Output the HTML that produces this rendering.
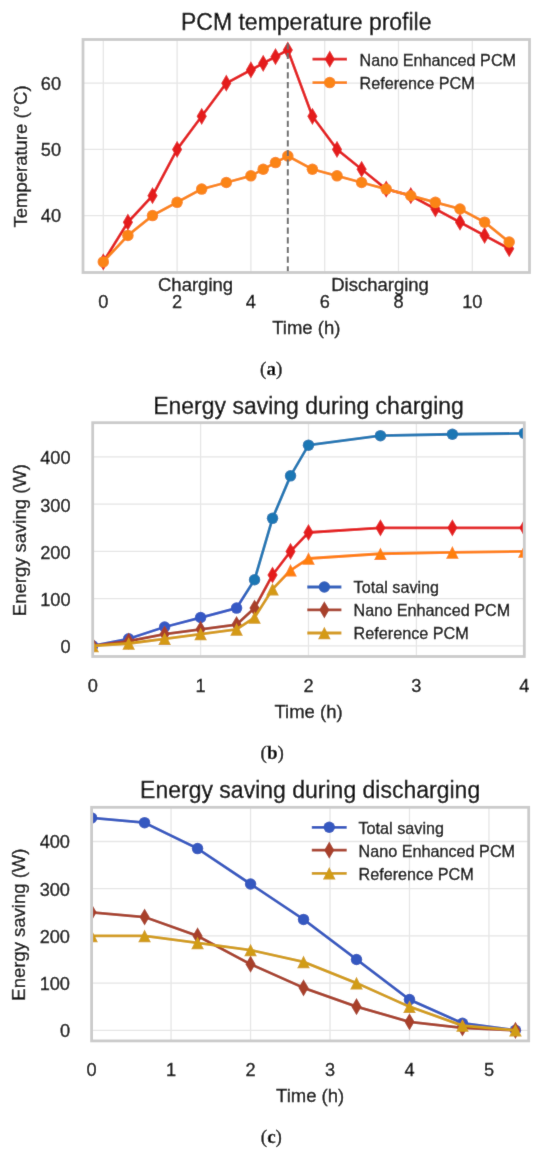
<!DOCTYPE html><html><head><meta charset="utf-8"><style>html,body{margin:0;padding:0;background:#fff;width:550px;height:1156px;overflow:hidden}svg{display:block}</style></head><body>
<svg width="550" height="1156" viewBox="0 0 550 1156">
<defs><filter id="bl" x="0" y="0" width="550" height="1156" filterUnits="userSpaceOnUse"><feConvolveMatrix order="3" kernelMatrix="0.0125 0.0625 0.0125 0.0625 0.7 0.0625 0.0125 0.0625 0.0125" edgeMode="duplicate"/></filter></defs><g filter="url(#bl)">
<rect width="550" height="1156" fill="#fff"/>
<defs><clipPath id="clip1"><rect x="83" y="39.5" width="446.5" height="233"/></clipPath></defs>
<path d="M103.3 39.5V272.5M177.1 39.5V272.5M250.9 39.5V272.5M324.7 39.5V272.5M398.5 39.5V272.5M472.3 39.5V272.5M83 215.57H529.5M83 149.38H529.5M83 83.19H529.5" stroke="#e6e6e6" stroke-width="1.3" fill="none"/>
<g clip-path="url(#clip1)">
<polyline points="103.3,261.91 127.9,222.19 152.5,195.72 177.1,149.38 201.7,116.28 226.3,83.19 250.9,69.95 263.2,63.33 275.5,56.71 287.8,50.09 312.4,116.28 337,149.38 361.6,169.24 386.2,189.1 410.8,195.72 435.4,208.95 460,222.19 484.6,235.43 509.2,248.67" fill="none" stroke="#e41a1c" stroke-width="2.8" stroke-linejoin="round" stroke-linecap="round"/>
<polygon points="103.3,253.31 108.4,261.91 103.3,270.51 98.2,261.91" fill="#e41a1c"/>
<polygon points="127.9,213.59 133,222.19 127.9,230.79 122.8,222.19" fill="#e41a1c"/>
<polygon points="152.5,187.12 157.6,195.72 152.5,204.32 147.4,195.72" fill="#e41a1c"/>
<polygon points="177.1,140.78 182.2,149.38 177.1,157.98 172,149.38" fill="#e41a1c"/>
<polygon points="201.7,107.68 206.8,116.28 201.7,124.88 196.6,116.28" fill="#e41a1c"/>
<polygon points="226.3,74.59 231.4,83.19 226.3,91.79 221.2,83.19" fill="#e41a1c"/>
<polygon points="250.9,61.35 256,69.95 250.9,78.55 245.8,69.95" fill="#e41a1c"/>
<polygon points="263.2,54.73 268.3,63.33 263.2,71.93 258.1,63.33" fill="#e41a1c"/>
<polygon points="275.5,48.11 280.6,56.71 275.5,65.31 270.4,56.71" fill="#e41a1c"/>
<polygon points="287.8,41.49 292.9,50.09 287.8,58.69 282.7,50.09" fill="#e41a1c"/>
<polygon points="312.4,107.68 317.5,116.28 312.4,124.88 307.3,116.28" fill="#e41a1c"/>
<polygon points="337,140.78 342.1,149.38 337,157.98 331.9,149.38" fill="#e41a1c"/>
<polygon points="361.6,160.64 366.7,169.24 361.6,177.84 356.5,169.24" fill="#e41a1c"/>
<polygon points="386.2,180.5 391.3,189.1 386.2,197.7 381.1,189.1" fill="#e41a1c"/>
<polygon points="410.8,187.12 415.9,195.72 410.8,204.32 405.7,195.72" fill="#e41a1c"/>
<polygon points="435.4,200.35 440.5,208.95 435.4,217.55 430.3,208.95" fill="#e41a1c"/>
<polygon points="460,213.59 465.1,222.19 460,230.79 454.9,222.19" fill="#e41a1c"/>
<polygon points="484.6,226.83 489.7,235.43 484.6,244.03 479.5,235.43" fill="#e41a1c"/>
<polygon points="509.2,240.07 514.3,248.67 509.2,257.27 504.1,248.67" fill="#e41a1c"/>
<polyline points="103.3,261.91 127.9,235.43 152.5,215.57 177.1,202.34 201.7,189.1 226.3,182.48 250.9,175.86 263.2,169.24 275.5,162.62 287.8,156 312.4,169.24 337,175.86 361.6,182.48 386.2,189.1 410.8,195.72 435.4,202.34 460,208.95 484.6,222.19 509.2,242.05" fill="none" stroke="#fb8416" stroke-width="2.8" stroke-linejoin="round" stroke-linecap="round"/>
<circle cx="103.3" cy="261.91" r="5.75" fill="#fb8416"/>
<circle cx="127.9" cy="235.43" r="5.75" fill="#fb8416"/>
<circle cx="152.5" cy="215.57" r="5.75" fill="#fb8416"/>
<circle cx="177.1" cy="202.34" r="5.75" fill="#fb8416"/>
<circle cx="201.7" cy="189.1" r="5.75" fill="#fb8416"/>
<circle cx="226.3" cy="182.48" r="5.75" fill="#fb8416"/>
<circle cx="250.9" cy="175.86" r="5.75" fill="#fb8416"/>
<circle cx="263.2" cy="169.24" r="5.75" fill="#fb8416"/>
<circle cx="275.5" cy="162.62" r="5.75" fill="#fb8416"/>
<circle cx="287.8" cy="156" r="5.75" fill="#fb8416"/>
<circle cx="312.4" cy="169.24" r="5.75" fill="#fb8416"/>
<circle cx="337" cy="175.86" r="5.75" fill="#fb8416"/>
<circle cx="361.6" cy="182.48" r="5.75" fill="#fb8416"/>
<circle cx="386.2" cy="189.1" r="5.75" fill="#fb8416"/>
<circle cx="410.8" cy="195.72" r="5.75" fill="#fb8416"/>
<circle cx="435.4" cy="202.34" r="5.75" fill="#fb8416"/>
<circle cx="460" cy="208.95" r="5.75" fill="#fb8416"/>
<circle cx="484.6" cy="222.19" r="5.75" fill="#fb8416"/>
<circle cx="509.2" cy="242.05" r="5.75" fill="#fb8416"/>
</g>
<line x1="287.8" y1="272.5" x2="287.8" y2="39.5" stroke="#6b6b6b" stroke-width="2.0" stroke-dasharray="6.2,3.5"/>
<text x="195.55" y="290.7" font-size="18.5" text-anchor="middle" font-family='"Liberation Sans", sans-serif' fill="#000000" font-weight="normal"  stroke="#000000" stroke-width="0.3">Charging</text>
<text x="380.05" y="290.5" font-size="18.5" text-anchor="middle" font-family='"Liberation Sans", sans-serif' fill="#000000" font-weight="normal"  stroke="#000000" stroke-width="0.3">Discharging</text>
<rect x="83" y="39.5" width="446.5" height="233" fill="none" stroke="#cbcbcb" stroke-width="2.8"/>
<text x="103.3" y="308.2" font-size="18.2" text-anchor="middle" font-family='"Liberation Sans", sans-serif' fill="#000000" font-weight="normal"  stroke="#000000" stroke-width="0.3">0</text>
<text x="177.1" y="308.2" font-size="18.2" text-anchor="middle" font-family='"Liberation Sans", sans-serif' fill="#000000" font-weight="normal"  stroke="#000000" stroke-width="0.3">2</text>
<text x="250.9" y="308.2" font-size="18.2" text-anchor="middle" font-family='"Liberation Sans", sans-serif' fill="#000000" font-weight="normal"  stroke="#000000" stroke-width="0.3">4</text>
<text x="324.7" y="308.2" font-size="18.2" text-anchor="middle" font-family='"Liberation Sans", sans-serif' fill="#000000" font-weight="normal"  stroke="#000000" stroke-width="0.3">6</text>
<text x="398.5" y="308.2" font-size="18.2" text-anchor="middle" font-family='"Liberation Sans", sans-serif' fill="#000000" font-weight="normal"  stroke="#000000" stroke-width="0.3">8</text>
<text x="472.3" y="308.2" font-size="18.2" text-anchor="middle" font-family='"Liberation Sans", sans-serif' fill="#000000" font-weight="normal"  stroke="#000000" stroke-width="0.3">10</text>
<text x="61" y="221.97" font-size="18.2" text-anchor="end" font-family='"Liberation Sans", sans-serif' fill="#000000" font-weight="normal"  stroke="#000000" stroke-width="0.3">40</text>
<text x="61" y="155.78" font-size="18.2" text-anchor="end" font-family='"Liberation Sans", sans-serif' fill="#000000" font-weight="normal"  stroke="#000000" stroke-width="0.3">50</text>
<text x="61" y="89.59" font-size="18.2" text-anchor="end" font-family='"Liberation Sans", sans-serif' fill="#000000" font-weight="normal"  stroke="#000000" stroke-width="0.3">60</text>
<g transform="translate(306.25,29.5)"><text x="0" y="0" font-size="23" text-anchor="middle" font-family='"Liberation Sans", sans-serif' fill="#000000" font-weight="normal" stroke="#000000" stroke-width="0.3">PCM temperature profile</text></g>
<text x="306.25" y="333.8" font-size="18.5" text-anchor="middle" font-family='"Liberation Sans", sans-serif' fill="#000000" font-weight="normal"  stroke="#000000" stroke-width="0.3">Time (h)</text>
<text x="0" y="0" font-size="18.5" text-anchor="middle" font-family='"Liberation Sans", sans-serif' fill="#000000" stroke="#000000" stroke-width="0.3" transform="translate(27.1,156.5) rotate(-90)">Temperature (°C)</text>
<line x1="312.5" y1="59.2" x2="347" y2="59.2" stroke="#e41a1c" stroke-width="2.8" stroke-linecap="butt"/>
<polygon points="329.75,50.6 334.85,59.2 329.75,67.8 324.65,59.2" fill="#e41a1c"/>
<text x="359.5" y="65.6" font-size="16.2" text-anchor="start" font-family='"Liberation Sans", sans-serif' fill="#000000" font-weight="normal"  stroke="#000000" stroke-width="0.3">Nano Enhanced PCM</text>
<line x1="312.5" y1="82.6" x2="347" y2="82.6" stroke="#fb8416" stroke-width="2.8" stroke-linecap="butt"/>
<circle cx="329.75" cy="82.6" r="5.75" fill="#fb8416"/>
<text x="359.5" y="89" font-size="16.2" text-anchor="start" font-family='"Liberation Sans", sans-serif' fill="#000000" font-weight="normal"  stroke="#000000" stroke-width="0.3">Reference PCM</text>
<text x="271.2" y="374.6" font-size="19" text-anchor="middle" font-family='"Liberation Serif", serif' fill="#000000" font-weight="normal"  stroke="#000000" stroke-width="0.3">(<tspan font-weight="bold">a</tspan>)</text>
<defs><clipPath id="clip2"><rect x="92.7" y="422.7" width="431.6" height="233.8"/></clipPath></defs>
<path d="M92.7 422.7V656.5M200.6 422.7V656.5M308.5 422.7V656.5M416.4 422.7V656.5M524.3 422.7V656.5M92.7 645.87H524.3M92.7 598.64H524.3M92.7 551.41H524.3M92.7 504.18H524.3M92.7 456.94H524.3" stroke="#e6e6e6" stroke-width="1.3" fill="none"/>
<g clip-path="url(#clip2)">
<defs><linearGradient id="g2_0" gradientUnits="userSpaceOnUse" x1="240" y1="0" x2="254" y2="0"><stop offset="0" stop-color="#3558c4"/><stop offset="1" stop-color="#1f77b4"/></linearGradient></defs>
<polyline points="92.7,645.87 128.67,638.79 164.63,626.98 200.6,617.53 236.57,608.09 254.55,579.75 272.53,518.35 290.52,475.84 308.5,445.14 380.43,435.69 452.37,434.27 524.3,433.33" fill="none" stroke="url(#g2_0)" stroke-width="2.8" stroke-linejoin="round" stroke-linecap="round"/>
<circle cx="92.7" cy="645.87" r="5.75" fill="#3558c4"/>
<circle cx="128.67" cy="638.79" r="5.75" fill="#3558c4"/>
<circle cx="164.63" cy="626.98" r="5.75" fill="#3558c4"/>
<circle cx="200.6" cy="617.53" r="5.75" fill="#3558c4"/>
<circle cx="236.57" cy="608.09" r="5.75" fill="#3558c4"/>
<circle cx="254.55" cy="579.75" r="5.75" fill="#1f77b4"/>
<circle cx="272.53" cy="518.35" r="5.75" fill="#1f77b4"/>
<circle cx="290.52" cy="475.84" r="5.75" fill="#1f77b4"/>
<circle cx="308.5" cy="445.14" r="5.75" fill="#1f77b4"/>
<circle cx="380.43" cy="435.69" r="5.75" fill="#1f77b4"/>
<circle cx="452.37" cy="434.27" r="5.75" fill="#1f77b4"/>
<circle cx="524.3" cy="433.33" r="5.75" fill="#1f77b4"/>
<defs><linearGradient id="g2_1" gradientUnits="userSpaceOnUse" x1="256" y1="0" x2="272" y2="0"><stop offset="0" stop-color="#a8402a"/><stop offset="1" stop-color="#e41a1c"/></linearGradient></defs>
<polyline points="92.7,645.87 128.67,641.15 164.63,634.06 200.6,629.34 236.57,624.62 254.55,608.09 272.53,575.02 290.52,551.41 308.5,532.52 380.43,527.79 452.37,527.79 524.3,527.79" fill="none" stroke="url(#g2_1)" stroke-width="2.8" stroke-linejoin="round" stroke-linecap="round"/>
<polygon points="92.7,637.27 97.8,645.87 92.7,654.47 87.6,645.87" fill="#a8402a"/>
<polygon points="128.67,632.55 133.77,641.15 128.67,649.75 123.57,641.15" fill="#a8402a"/>
<polygon points="164.63,625.46 169.73,634.06 164.63,642.66 159.53,634.06" fill="#a8402a"/>
<polygon points="200.6,620.74 205.7,629.34 200.6,637.94 195.5,629.34" fill="#a8402a"/>
<polygon points="236.57,616.02 241.67,624.62 236.57,633.22 231.47,624.62" fill="#a8402a"/>
<polygon points="254.55,599.49 259.65,608.09 254.55,616.69 249.45,608.09" fill="#a8402a"/>
<polygon points="272.53,566.42 277.63,575.02 272.53,583.62 267.43,575.02" fill="#e41a1c"/>
<polygon points="290.52,542.81 295.62,551.41 290.52,560.01 285.42,551.41" fill="#e41a1c"/>
<polygon points="308.5,523.92 313.6,532.52 308.5,541.12 303.4,532.52" fill="#e41a1c"/>
<polygon points="380.43,519.19 385.53,527.79 380.43,536.39 375.33,527.79" fill="#e41a1c"/>
<polygon points="452.37,519.19 457.47,527.79 452.37,536.39 447.27,527.79" fill="#e41a1c"/>
<polygon points="524.3,519.19 529.4,527.79 524.3,536.39 519.2,527.79" fill="#e41a1c"/>
<defs><linearGradient id="g2_2" gradientUnits="userSpaceOnUse" x1="274" y1="0" x2="290" y2="0"><stop offset="0" stop-color="#d49a16"/><stop offset="1" stop-color="#ff7f0e"/></linearGradient></defs>
<polyline points="92.7,645.87 128.67,643.51 164.63,638.79 200.6,634.06 236.57,629.34 254.55,617.53 272.53,589.19 290.52,570.3 308.5,558.49 380.43,553.77 452.37,552.35 524.3,551.41" fill="none" stroke="url(#g2_2)" stroke-width="2.8" stroke-linejoin="round" stroke-linecap="round"/>
<polygon points="92.7,639.57 99,652.17 86.4,652.17" fill="#d49a16"/>
<polygon points="128.67,637.21 134.97,649.81 122.37,649.81" fill="#d49a16"/>
<polygon points="164.63,632.49 170.93,645.09 158.33,645.09" fill="#d49a16"/>
<polygon points="200.6,627.76 206.9,640.36 194.3,640.36" fill="#d49a16"/>
<polygon points="236.57,623.04 242.87,635.64 230.27,635.64" fill="#d49a16"/>
<polygon points="254.55,611.23 260.85,623.83 248.25,623.83" fill="#d49a16"/>
<polygon points="272.53,582.89 278.83,595.49 266.23,595.49" fill="#d49a16"/>
<polygon points="290.52,564 296.82,576.6 284.22,576.6" fill="#ff7f0e"/>
<polygon points="308.5,552.19 314.8,564.79 302.2,564.79" fill="#ff7f0e"/>
<polygon points="380.43,547.47 386.73,560.07 374.13,560.07" fill="#ff7f0e"/>
<polygon points="452.37,546.05 458.67,558.65 446.07,558.65" fill="#ff7f0e"/>
<polygon points="524.3,545.11 530.6,557.71 518,557.71" fill="#ff7f0e"/>
</g>
<rect x="92.7" y="422.7" width="431.6" height="233.8" fill="none" stroke="#cbcbcb" stroke-width="2.8"/>
<text x="92.7" y="692" font-size="18.2" text-anchor="middle" font-family='"Liberation Sans", sans-serif' fill="#000000" font-weight="normal"  stroke="#000000" stroke-width="0.3">0</text>
<text x="200.6" y="692" font-size="18.2" text-anchor="middle" font-family='"Liberation Sans", sans-serif' fill="#000000" font-weight="normal"  stroke="#000000" stroke-width="0.3">1</text>
<text x="308.5" y="692" font-size="18.2" text-anchor="middle" font-family='"Liberation Sans", sans-serif' fill="#000000" font-weight="normal"  stroke="#000000" stroke-width="0.3">2</text>
<text x="416.4" y="692" font-size="18.2" text-anchor="middle" font-family='"Liberation Sans", sans-serif' fill="#000000" font-weight="normal"  stroke="#000000" stroke-width="0.3">3</text>
<text x="524.3" y="692" font-size="18.2" text-anchor="middle" font-family='"Liberation Sans", sans-serif' fill="#000000" font-weight="normal"  stroke="#000000" stroke-width="0.3">4</text>
<text x="70.6" y="653.27" font-size="18.2" text-anchor="end" font-family='"Liberation Sans", sans-serif' fill="#000000" font-weight="normal"  stroke="#000000" stroke-width="0.3">0</text>
<text x="70.6" y="606.04" font-size="18.2" text-anchor="end" font-family='"Liberation Sans", sans-serif' fill="#000000" font-weight="normal"  stroke="#000000" stroke-width="0.3">100</text>
<text x="70.6" y="558.81" font-size="18.2" text-anchor="end" font-family='"Liberation Sans", sans-serif' fill="#000000" font-weight="normal"  stroke="#000000" stroke-width="0.3">200</text>
<text x="70.6" y="511.58" font-size="18.2" text-anchor="end" font-family='"Liberation Sans", sans-serif' fill="#000000" font-weight="normal"  stroke="#000000" stroke-width="0.3">300</text>
<text x="70.6" y="464.34" font-size="18.2" text-anchor="end" font-family='"Liberation Sans", sans-serif' fill="#000000" font-weight="normal"  stroke="#000000" stroke-width="0.3">400</text>
<g transform="translate(308.5,413.6)"><text x="0" y="0" font-size="23" text-anchor="middle" font-family='"Liberation Sans", sans-serif' fill="#000000" font-weight="normal" stroke="#000000" stroke-width="0.3">Energy saving during charging</text></g>
<text x="308.5" y="718.2" font-size="18.5" text-anchor="middle" font-family='"Liberation Sans", sans-serif' fill="#000000" font-weight="normal"  stroke="#000000" stroke-width="0.3">Time (h)</text>
<text x="0" y="0" font-size="18.5" text-anchor="middle" font-family='"Liberation Sans", sans-serif' fill="#000000" stroke="#000000" stroke-width="0.3" transform="translate(26,540.1) rotate(-90)">Energy saving (W)</text>
<line x1="307.3" y1="587" x2="341.4" y2="587" stroke="#2d5fbc" stroke-width="2.8" stroke-linecap="butt"/>
<circle cx="324.35" cy="587" r="5.75" fill="#2d5fbc"/>
<text x="353.6" y="593.4" font-size="16.2" text-anchor="start" font-family='"Liberation Sans", sans-serif' fill="#000000" font-weight="normal"  stroke="#000000" stroke-width="0.3">Total saving</text>
<line x1="307.3" y1="609.8" x2="341.4" y2="609.8" stroke="#a8402a" stroke-width="2.8" stroke-linecap="butt"/>
<polygon points="324.35,601.2 329.45,609.8 324.35,618.4 319.25,609.8" fill="#a8402a"/>
<text x="353.6" y="616.2" font-size="16.2" text-anchor="start" font-family='"Liberation Sans", sans-serif' fill="#000000" font-weight="normal"  stroke="#000000" stroke-width="0.3">Nano Enhanced PCM</text>
<line x1="307.3" y1="633" x2="341.4" y2="633" stroke="#d49a16" stroke-width="2.8" stroke-linecap="butt"/>
<polygon points="324.35,626.7 330.65,639.3 318.05,639.3" fill="#d49a16"/>
<text x="353.6" y="639.4" font-size="16.2" text-anchor="start" font-family='"Liberation Sans", sans-serif' fill="#000000" font-weight="normal"  stroke="#000000" stroke-width="0.3">Reference PCM</text>
<text x="272.2" y="758.8" font-size="19" text-anchor="middle" font-family='"Liberation Serif", serif' fill="#000000" font-weight="normal"  stroke="#000000" stroke-width="0.3">(<tspan font-weight="bold">b</tspan>)</text>
<defs><clipPath id="clip3"><rect x="91.6" y="807.3" width="437.1" height="233.6"/></clipPath></defs>
<path d="M91.6 807.3V1040.9M171.07 807.3V1040.9M250.55 807.3V1040.9M330.02 807.3V1040.9M409.49 807.3V1040.9M488.96 807.3V1040.9M91.6 1030.28H528.7M91.6 983.09H528.7M91.6 935.9H528.7M91.6 888.71H528.7M91.6 841.51H528.7" stroke="#e6e6e6" stroke-width="1.3" fill="none"/>
<g clip-path="url(#clip3)">
<polyline points="91.6,817.92 144.58,822.64 197.56,848.59 250.55,883.99 303.53,919.38 356.51,959.49 409.49,999.61 462.47,1023.2 515.45,1030.28" fill="none" stroke="#3458c0" stroke-width="2.8" stroke-linejoin="round" stroke-linecap="round"/>
<circle cx="91.6" cy="817.92" r="5.75" fill="#3458c0"/>
<circle cx="144.58" cy="822.64" r="5.75" fill="#3458c0"/>
<circle cx="197.56" cy="848.59" r="5.75" fill="#3458c0"/>
<circle cx="250.55" cy="883.99" r="5.75" fill="#3458c0"/>
<circle cx="303.53" cy="919.38" r="5.75" fill="#3458c0"/>
<circle cx="356.51" cy="959.49" r="5.75" fill="#3458c0"/>
<circle cx="409.49" cy="999.61" r="5.75" fill="#3458c0"/>
<circle cx="462.47" cy="1023.2" r="5.75" fill="#3458c0"/>
<circle cx="515.45" cy="1030.28" r="5.75" fill="#3458c0"/>
<polyline points="91.6,912.3 144.58,917.02 197.56,935.9 250.55,964.21 303.53,987.81 356.51,1006.69 409.49,1021.79 462.47,1027.92 515.45,1030.28" fill="none" stroke="#a8402a" stroke-width="2.8" stroke-linejoin="round" stroke-linecap="round"/>
<polygon points="91.6,903.7 96.7,912.3 91.6,920.9 86.5,912.3" fill="#a8402a"/>
<polygon points="144.58,908.42 149.68,917.02 144.58,925.62 139.48,917.02" fill="#a8402a"/>
<polygon points="197.56,927.3 202.66,935.9 197.56,944.5 192.46,935.9" fill="#a8402a"/>
<polygon points="250.55,955.61 255.65,964.21 250.55,972.81 245.45,964.21" fill="#a8402a"/>
<polygon points="303.53,979.21 308.63,987.81 303.53,996.41 298.43,987.81" fill="#a8402a"/>
<polygon points="356.51,998.09 361.61,1006.69 356.51,1015.29 351.41,1006.69" fill="#a8402a"/>
<polygon points="409.49,1013.19 414.59,1021.79 409.49,1030.39 404.39,1021.79" fill="#a8402a"/>
<polygon points="462.47,1019.32 467.57,1027.92 462.47,1036.52 457.37,1027.92" fill="#a8402a"/>
<polygon points="515.45,1021.68 520.55,1030.28 515.45,1038.88 510.35,1030.28" fill="#a8402a"/>
<polyline points="91.6,935.9 144.58,935.9 197.56,942.98 250.55,950.06 303.53,961.85 356.51,983.09 409.49,1006.69 462.47,1025.56 515.45,1030.28" fill="none" stroke="#d19c14" stroke-width="2.8" stroke-linejoin="round" stroke-linecap="round"/>
<polygon points="91.6,929.6 97.9,942.2 85.3,942.2" fill="#d19c14"/>
<polygon points="144.58,929.6 150.88,942.2 138.28,942.2" fill="#d19c14"/>
<polygon points="197.56,936.68 203.86,949.28 191.26,949.28" fill="#d19c14"/>
<polygon points="250.55,943.76 256.85,956.36 244.25,956.36" fill="#d19c14"/>
<polygon points="303.53,955.55 309.83,968.15 297.23,968.15" fill="#d19c14"/>
<polygon points="356.51,976.79 362.81,989.39 350.21,989.39" fill="#d19c14"/>
<polygon points="409.49,1000.39 415.79,1012.99 403.19,1012.99" fill="#d19c14"/>
<polygon points="462.47,1019.26 468.77,1031.86 456.17,1031.86" fill="#d19c14"/>
<polygon points="515.45,1023.98 521.75,1036.58 509.15,1036.58" fill="#d19c14"/>
</g>
<rect x="91.6" y="807.3" width="437.1" height="233.6" fill="none" stroke="#cbcbcb" stroke-width="2.8"/>
<text x="91.6" y="1075.8" font-size="18.2" text-anchor="middle" font-family='"Liberation Sans", sans-serif' fill="#000000" font-weight="normal"  stroke="#000000" stroke-width="0.3">0</text>
<text x="171.07" y="1075.8" font-size="18.2" text-anchor="middle" font-family='"Liberation Sans", sans-serif' fill="#000000" font-weight="normal"  stroke="#000000" stroke-width="0.3">1</text>
<text x="250.55" y="1075.8" font-size="18.2" text-anchor="middle" font-family='"Liberation Sans", sans-serif' fill="#000000" font-weight="normal"  stroke="#000000" stroke-width="0.3">2</text>
<text x="330.02" y="1075.8" font-size="18.2" text-anchor="middle" font-family='"Liberation Sans", sans-serif' fill="#000000" font-weight="normal"  stroke="#000000" stroke-width="0.3">3</text>
<text x="409.49" y="1075.8" font-size="18.2" text-anchor="middle" font-family='"Liberation Sans", sans-serif' fill="#000000" font-weight="normal"  stroke="#000000" stroke-width="0.3">4</text>
<text x="488.96" y="1075.8" font-size="18.2" text-anchor="middle" font-family='"Liberation Sans", sans-serif' fill="#000000" font-weight="normal"  stroke="#000000" stroke-width="0.3">5</text>
<text x="70" y="1037.18" font-size="18.2" text-anchor="end" font-family='"Liberation Sans", sans-serif' fill="#000000" font-weight="normal"  stroke="#000000" stroke-width="0.3">0</text>
<text x="70" y="989.99" font-size="18.2" text-anchor="end" font-family='"Liberation Sans", sans-serif' fill="#000000" font-weight="normal"  stroke="#000000" stroke-width="0.3">100</text>
<text x="70" y="942.8" font-size="18.2" text-anchor="end" font-family='"Liberation Sans", sans-serif' fill="#000000" font-weight="normal"  stroke="#000000" stroke-width="0.3">200</text>
<text x="70" y="895.61" font-size="18.2" text-anchor="end" font-family='"Liberation Sans", sans-serif' fill="#000000" font-weight="normal"  stroke="#000000" stroke-width="0.3">300</text>
<text x="70" y="848.41" font-size="18.2" text-anchor="end" font-family='"Liberation Sans", sans-serif' fill="#000000" font-weight="normal"  stroke="#000000" stroke-width="0.3">400</text>
<g transform="translate(310.15,797.8)"><text x="0" y="0" font-size="23" text-anchor="middle" font-family='"Liberation Sans", sans-serif' fill="#000000" font-weight="normal" stroke="#000000" stroke-width="0.3">Energy saving during discharging</text></g>
<text x="310.15" y="1102" font-size="18.5" text-anchor="middle" font-family='"Liberation Sans", sans-serif' fill="#000000" font-weight="normal"  stroke="#000000" stroke-width="0.3">Time (h)</text>
<text x="0" y="0" font-size="18.5" text-anchor="middle" font-family='"Liberation Sans", sans-serif' fill="#000000" stroke="#000000" stroke-width="0.3" transform="translate(25.4,924.6) rotate(-90)">Energy saving (W)</text>
<line x1="311.8" y1="827.3" x2="346.7" y2="827.3" stroke="#3458c0" stroke-width="2.8" stroke-linecap="butt"/>
<circle cx="329.25" cy="827.3" r="5.75" fill="#3458c0"/>
<text x="358.5" y="833.7" font-size="16.2" text-anchor="start" font-family='"Liberation Sans", sans-serif' fill="#000000" font-weight="normal"  stroke="#000000" stroke-width="0.3">Total saving</text>
<line x1="311.8" y1="850.2" x2="346.7" y2="850.2" stroke="#a8402a" stroke-width="2.8" stroke-linecap="butt"/>
<polygon points="329.25,841.6 334.35,850.2 329.25,858.8 324.15,850.2" fill="#a8402a"/>
<text x="358.5" y="856.6" font-size="16.2" text-anchor="start" font-family='"Liberation Sans", sans-serif' fill="#000000" font-weight="normal"  stroke="#000000" stroke-width="0.3">Nano Enhanced PCM</text>
<line x1="311.8" y1="873.3" x2="346.7" y2="873.3" stroke="#d19c14" stroke-width="2.8" stroke-linecap="butt"/>
<polygon points="329.25,867 335.55,879.6 322.95,879.6" fill="#d19c14"/>
<text x="358.5" y="879.7" font-size="16.2" text-anchor="start" font-family='"Liberation Sans", sans-serif' fill="#000000" font-weight="normal"  stroke="#000000" stroke-width="0.3">Reference PCM</text>
<text x="271.4" y="1143" font-size="19" text-anchor="middle" font-family='"Liberation Serif", serif' fill="#000000" font-weight="normal"  stroke="#000000" stroke-width="0.3">(<tspan font-weight="bold">c</tspan>)</text>
</g></svg></body></html>
